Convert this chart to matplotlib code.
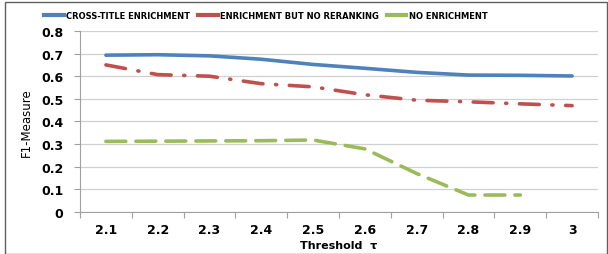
import matplotlib.pyplot as plt
import matplotlib.patches as mpatches
import numpy as np

# data
thresholds = ['2.1', '2.2', '2.3', '2.4', '2.5', '2.6', '2.7', '2.8', '2.9', '3']
cross_title = [0.693, 0.695, 0.690, 0.675, 0.652, 0.635, 0.617, 0.605, 0.604, 0.601]
no_rerank = [0.650, 0.607, 0.600, 0.567, 0.553, 0.518, 0.494, 0.487, 0.478, 0.470]
no_enrich = [0.312, 0.313, 0.314, 0.315, 0.318, 0.279, 0.170, 0.075, 0.075, np.nan]

fig = plt.figure(figsize=(6.08, 2.55), dpi=100)
ax = fig.add_axes([0.1316, 0.1647, 0.852, 0.71])

x = np.arange(len(thresholds))
ax.plot(x, cross_title, color='#4F81BD', lw=2.6, solid_capstyle='round',
        label='CROSS-TITLE ENRICHMENT', zorder=3)
ax.plot(x, no_rerank, color='#C0504D', lw=2.6, dashes=(5.5, 3.5, 0.3, 3.5),
        dash_capstyle='round', label='ENRICHMENT BUT NO RERANKING', zorder=3)
ax.plot(x, no_enrich, color='#9BBB59', lw=2.6, dashes=(5.5, 2.8),
        dash_capstyle='round', label='NO ENRICHMENT', zorder=3)

ax.set_xlim(-0.5, len(thresholds) - 0.5)
ax.set_ylim(0, 0.8)
ax.set_yticks(np.arange(0, 0.81, 0.1))
ax.set_yticklabels(['0', '0.1', '0.2', '0.3', '0.4', '0.5', '0.6', '0.7', '0.8'],
                   fontweight='bold', fontsize=9)

# category labels at centres, tick marks at boundaries
ax.set_xticks(np.arange(-0.5, len(thresholds), 1.0))
ax.set_xticklabels([])
ax.set_xticks(x, minor=True)
ax.set_xticklabels(thresholds, minor=True, fontweight='bold', fontsize=9)
ax.tick_params(axis='x', which='major', length=4, color='#A0A0A0', direction='out')
ax.tick_params(axis='x', which='minor', length=0, pad=8)
ax.tick_params(axis='y', length=4, color='#A0A0A0', pad=8)

ax.yaxis.grid(True, color='#D0D0D0', lw=0.9, zorder=0)
ax.set_axisbelow(True)
for s in ['top', 'right']:
    ax.spines[s].set_visible(False)
ax.spines['left'].set_color('#A0A0A0')
ax.spines['bottom'].set_color('#A0A0A0')

ax.set_ylabel('F1-Measure', fontsize=8.5, family='Liberation Sans Narrow', labelpad=6)
ax.set_xlabel('Threshold  \u03c4', fontsize=8, fontweight='bold', labelpad=3)

# legend uses solid swatches like the original
handles = [plt.Line2D([], [], color='#4F81BD', lw=3),
           plt.Line2D([], [], color='#C0504D', lw=3),
           plt.Line2D([], [], color='#9BBB59', lw=3)]
labels = ['CROSS-TITLE ENRICHMENT', 'ENRICHMENT BUT NO RERANKING', 'NO ENRICHMENT']
fig.legend(handles, labels, loc='center', bbox_to_anchor=(0.4375, 0.935), ncol=3,
           frameon=False, prop={'size': 6, 'weight': 'bold'},
           handlelength=2.3, handletextpad=0.3, columnspacing=1.0)

# outer frame
fig.patches.append(mpatches.Rectangle((0.008, 0.0), 0.99, 0.99, transform=fig.transFigure,
                                      fill=False, edgecolor='#606060', lw=1.0))

fig.savefig('out.png', dpi=100)
